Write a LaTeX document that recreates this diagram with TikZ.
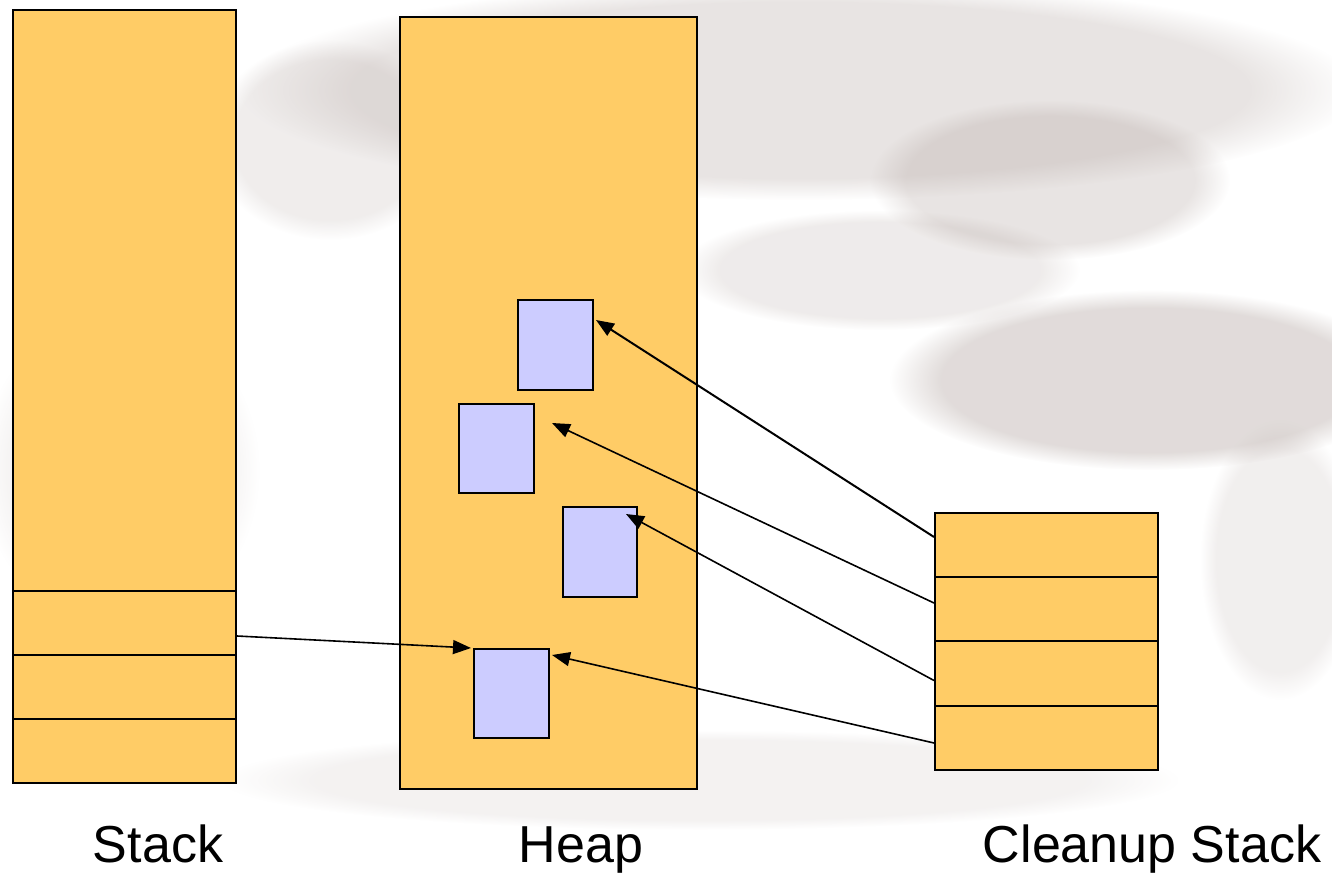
\documentclass[tikz,border=0pt]{standalone}
\usepackage{fontspec}
\setmainfont{Liberation Sans}
\usetikzlibrary{fit,arrows.meta,fadings}
\definecolor{boxor}{HTML}{FFCC66}
\definecolor{boxbl}{HTML}{CCCCFF}
\definecolor{smudge}{HTML}{B3A6A2}
\tikzset{
  orbox/.style={draw=black, line width=1pt, fill=boxor, inner sep=0pt},
  blbox/.style={draw=black, line width=1pt, fill=boxbl, inner sep=0pt},
  ptr/.style={draw=black, line width=0.8pt, -{Triangle[length=9pt,width=7pt]}},
  lbl/.style={font=\fontsize{26}{30}\selectfont, anchor=base},
  blob/.style={fill=smudge, path fading=circle with fuzzy edge 20 percent}
}
\begin{document}
\begin{tikzpicture}[x=0.5pt,y=-0.5pt]
\useasboundingbox (0,0) rectangle (1332,882);
% background smudges
\begin{scope}
\fill[blob, opacity=0.30] (800,90) ellipse (560 and 110);
\fill[blob, opacity=0.40] (1150,380) ellipse (260 and 90);
\fill[blob, opacity=0.30] (1050,180) ellipse (180 and 80);
\fill[blob, opacity=0.22] (880,270) ellipse (200 and 60);
\fill[blob, opacity=0.20] (330,140) ellipse (120 and 100);
\fill[blob, opacity=0.15] (700,780) ellipse (480 and 50);
\fill[blob, opacity=0.18] (1280,560) ellipse (80 and 140);
\fill[blob, opacity=0.12] (120,470) ellipse (140 and 160);
\end{scope}
% stack
\node[orbox, fit={(13,10) (236,591)}] (stop) {};
\node[orbox, fit={(13,591) (236,655)}] (s1) {};
\node[orbox, fit={(13,655) (236,719)}] (s2) {};
\node[orbox, fit={(13,719) (236,783)}] (s3) {};
% heap
\node[orbox, fit={(400,17) (697,789)}] (heap) {};
\node[blbox, fit={(518,300) (593,390)}] (b1) {};
\node[blbox, fit={(459,404) (534,493)}] (b2) {};
\node[blbox, fit={(563,507) (637,597)}] (b3) {};
\node[blbox, fit={(474,649) (549,738)}] (b4) {};
% cleanup stack
\node[orbox, fit={(935,513) (1158,577)}] (c1) {};
\node[orbox, fit={(935,577) (1158,641)}] (c2) {};
\node[orbox, fit={(935,641) (1158,706)}] (c3) {};
\node[orbox, fit={(935,706) (1158,770)}] (c4) {};
% pointers
\draw[ptr] ([yshift=-6.5pt]s1.east) -- ([xshift=-1pt]b4.north west);
\draw[ptr, line width=1pt] ([yshift=4pt]c1.west) -- ([xshift=1pt,yshift=-10.5pt]b1.north east);
\draw[ptr] ([yshift=3pt]c2.west) -- ([xshift=8.5pt,yshift=-10pt]b2.north east);
\draw[ptr] ([yshift=-3.5pt]c3.west) -- ([xshift=-6pt,yshift=-4pt]b3.north east);
\draw[ptr] ([yshift=-2.5pt]c4.west) -- ([xshift=1pt,yshift=-3.5pt]b4.north east);
% labels
\node[lbl] (lstack) at (158,862) {Stack};
\node[lbl] (lheap) at (581,862) {Heap};
\node[lbl] (lclean) at (1152,862) {Cleanup Stack};
\end{tikzpicture}
\end{document}
